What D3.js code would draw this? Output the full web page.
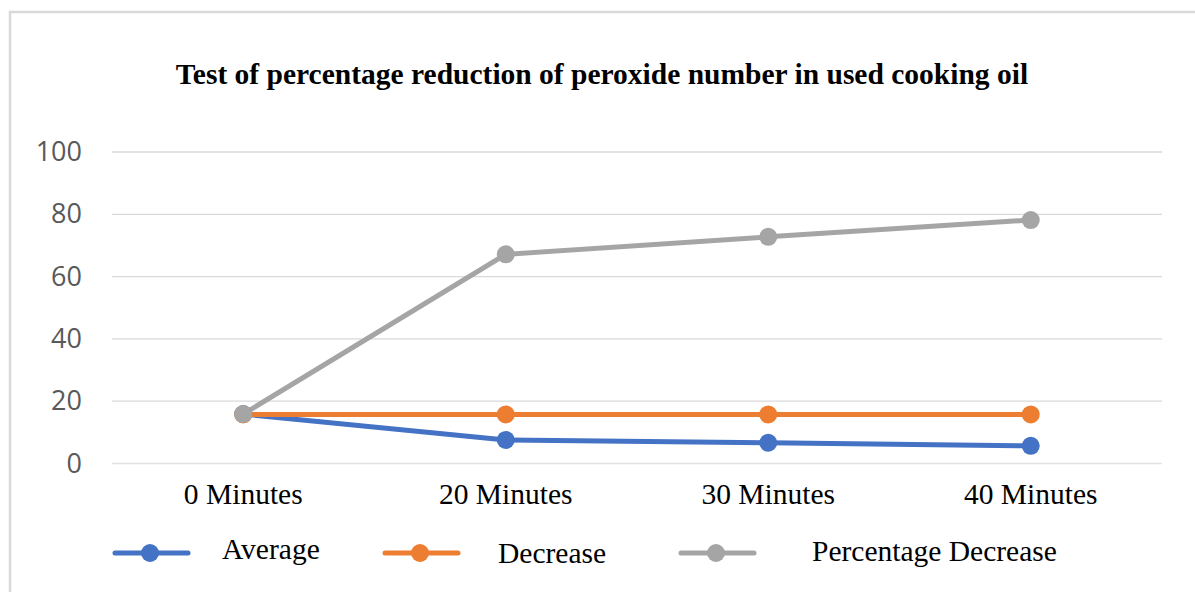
<!DOCTYPE html>
<html>
<head>
<meta charset="utf-8">
<script src="https://cdn.jsdelivr.net/npm/d3@7"></script>
<style>
  html, body { margin: 0; padding: 0; background: #fff; }
  svg { display: block; }
</style>
</head>
<body>
<svg id="chart" width="1195" height="592"></svg>
<script>
const title = "Test of percentage reduction of peroxide number in used cooking oil";
const categories = ["0 Minutes", "20 Minutes", "30 Minutes", "40 Minutes"];
const seriesNames = ["Average", "Decrease", "Percentage Decrease"];
const averageValues = [15.7, 7.4, 6.5, 5.5];
const decreaseValues = [15.6, 15.6, 15.6, 15.6];
const percentageDecreaseValues = [15.7, 67.0, 72.6, 78.0];
const yTicks = [0, 20, 40, 60, 80, 100];
const colors = ["#4472C4", "#ED7D31", "#A5A5A5"];

const series = [
  { name: seriesNames[0], values: averageValues, color: colors[0] },
  { name: seriesNames[1], values: decreaseValues, color: colors[1] },
  { name: seriesNames[2], values: percentageDecreaseValues, color: colors[2] }
];

const svg = d3.select("#chart");
const W = 1195, H = 592;
const plot = { left: 112, right: 1162, top: 151.5, bottom: 463 };

// frame
svg.append("path")
  .attr("d", `M10,${H} L10,12 L${W},12`)
  .attr("fill", "none")
  .attr("stroke", "#d9d9d9")
  .attr("stroke-width", 2.5);

// title
svg.append("text")
  .attr("x", 602)
  .attr("y", 84)
  .attr("text-anchor", "middle")
  .attr("font-family", "'Liberation Serif', 'Times New Roman', serif")
  .attr("font-weight", "bold")
  .attr("font-size", 29.5)
  .attr("fill", "#000")
  .text(title);

const x = d3.scaleBand().domain(categories).range([plot.left, plot.right]).padding(0);
const y = d3.scaleLinear().domain([0, 100]).range([plot.bottom, plot.top]);

// gridlines
const yAxis = d3.axisLeft(y).tickValues(yTicks).tickSize(-(plot.right - plot.left)).tickPadding(30).tickFormat(d3.format("d"));
const gy = svg.append("g").attr("transform", `translate(${plot.left},0)`).call(yAxis);
gy.select(".domain").remove();
gy.selectAll(".tick line")
  .attr("stroke", d => d === 0 ? "#e2e2e2" : "#d9d9d9")
  .attr("stroke-width", 1.3);
gy.selectAll(".tick text")
  .attr("font-family", "'Open Sans', sans-serif")
  .attr("font-size", 27)
  .attr("fill", "#595959")
  .attr("dy", "0.34em");

// x labels
const xAxis = d3.axisBottom(x).tickSize(0).tickPadding(0);
const gx = svg.append("g").attr("transform", `translate(0,${plot.bottom})`).call(xAxis);
gx.select(".domain").remove();
gx.selectAll(".tick text")
  .attr("font-family", "'Liberation Serif', 'Times New Roman', serif")
  .attr("font-size", 29.5)
  .attr("fill", "#000")
  .attr("dy", 0)
  .attr("y", 41);

// lines
const line = d3.line()
  .x((d, i) => x(categories[i]) + x.bandwidth() / 2)
  .y(d => y(d));

const gs = svg.append("g");
series.forEach(s => {
  gs.append("path")
    .datum(s.values)
    .attr("d", line)
    .attr("fill", "none")
    .attr("stroke", s.color)
    .attr("stroke-width", 5)
    .attr("stroke-linejoin", "round")
    .attr("stroke-linecap", "round");
});
series.forEach(s => {
  gs.selectAll(null)
    .data(s.values)
    .enter()
    .append("circle")
    .attr("cx", (d, i) => x(categories[i]) + x.bandwidth() / 2)
    .attr("cy", d => y(d))
    .attr("r", 9)
    .attr("fill", s.color);
});

// legend
const legendItems = [
  { lx: 115, tx: 222, ty: 559 },
  { lx: 385, tx: 498, ty: 563 },
  { lx: 681, tx: 812, ty: 561 }
];
const legendY = 553;
series.forEach((s, i) => {
  const it = legendItems[i];
  const g = svg.append("g");
  g.append("line")
    .attr("x1", it.lx).attr("x2", it.lx + 73)
    .attr("y1", legendY).attr("y2", legendY)
    .attr("stroke", s.color).attr("stroke-width", 5).attr("stroke-linecap", "round");
  g.append("circle")
    .attr("cx", it.lx + 35).attr("cy", legendY).attr("r", 9).attr("fill", s.color);
  g.append("text")
    .attr("x", it.tx).attr("y", it.ty)
    .attr("font-family", "'Liberation Serif', 'Times New Roman', serif")
    .attr("font-size", 29.5)
    .attr("fill", "#000")
    .text(s.name);
});
</script>
</body>
</html>
